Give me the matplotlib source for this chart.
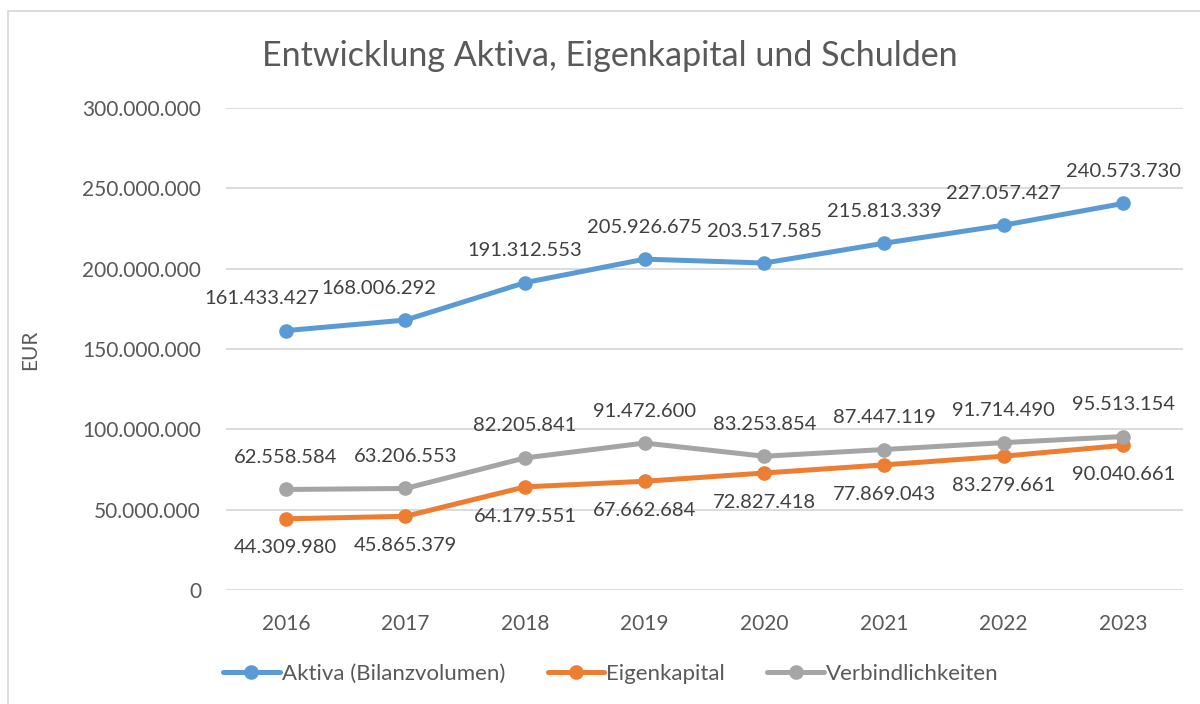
import matplotlib
matplotlib.use("Agg")
import matplotlib.pyplot as plt
from matplotlib.ticker import FuncFormatter, MultipleLocator
from matplotlib.patches import Rectangle

plt.rcParams['font.family'] = ['Lato', 'DejaVu Sans']

years = ["2016", "2017", "2018", "2019", "2020", "2021", "2022", "2023"]
aktiva = [161433427, 168006292, 191312553, 205926675, 203517585, 215813339, 227057427, 240573730]
eigenkapital = [44309980, 45865379, 64179551, 67662684, 72827418, 77869043, 83279661, 90040661]
verbindlichkeiten = [62558584, 63206553, 82205841, 91472600, 83253854, 87447119, 91714490, 95513154]
series_names = ["Aktiva (Bilanzvolumen)", "Eigenkapital", "Verbindlichkeiten"]

title = "Entwicklung Aktiva, Eigenkapital und Schulden"
ylabel = "EUR"

colors = ["#5B9BD5", "#ED7D31", "#A5A5A5"]
text_color = "#595959"
grid_color = "#D9D9D9"

# label offsets in points (style only)
aktiva_dx = [-17, -19, 0, 0, 0, 0, 0, 0]
label_dy = [23, -21, 23]

def fmt(v):
    return f"{v:,.0f}".replace(",", ".")

W, H = 1200, 704
fig = plt.figure(figsize=(W / 100, H / 100), dpi=100)
ax = fig.add_axes([226 / W, 1 - 590 / H, (1183 - 226) / W, (590 - 108) / H])

x = list(range(len(years)))
all_series = [aktiva, eigenkapital, verbindlichkeiten]
for vals, name, c in zip(all_series, series_names, colors):
    ax.plot(x, vals, color=c, lw=3.6, marker="o", ms=9.5, label=name,
            solid_capstyle="round", zorder=3)

for si, vals in enumerate(all_series):
    for i, v in enumerate(vals):
        dx = aktiva_dx[i] if si == 0 else 0
        dy = label_dy[si]
        ax.annotate(fmt(v), (i, v), xytext=(dx, dy), textcoords="offset points",
                    ha="center", va="center", fontsize=14.5, color="#404040", zorder=4)

ax.set_xlim(-0.5, len(years) - 0.5)
ax.set_ylim(0, 300000000)
ax.yaxis.set_major_locator(MultipleLocator(50000000))
ax.yaxis.set_major_formatter(FuncFormatter(lambda v, p: fmt(v)))
ax.set_xticks(x)
ax.set_xticklabels(years)
ax.tick_params(axis="both", length=0, labelsize=15, labelcolor=text_color)
ax.tick_params(axis="y", pad=18)
ax.tick_params(axis="x", pad=17)
for s in ax.spines.values():
    s.set_visible(False)
ax.grid(axis="y", color=grid_color, lw=1.3)
ax.set_axisbelow(True)

fig.text(30 / W, 1 - 350 / H, ylabel, rotation=90, ha="center", va="center",
         fontsize=15, color=text_color)
fig.text(610 / W, 1 - 56 / H, title, ha="center", va="center",
         fontsize=24.5, color=text_color)

leg = fig.legend(loc="center", bbox_to_anchor=(611 / W, 1 - 674 / H), ncol=3,
                 frameon=False, fontsize=16, handlelength=2.55, handletextpad=0.1,
                 columnspacing=1.9, labelcolor=text_color)

fig.patches.append(Rectangle((8 / W, -0.1), 1.2, (1 - 11 / H) + 0.1,
                             transform=fig.transFigure, fill=False,
                             edgecolor="#D9D9D9", lw=1.3))

fig.savefig("out.png", dpi=100, facecolor="white")
